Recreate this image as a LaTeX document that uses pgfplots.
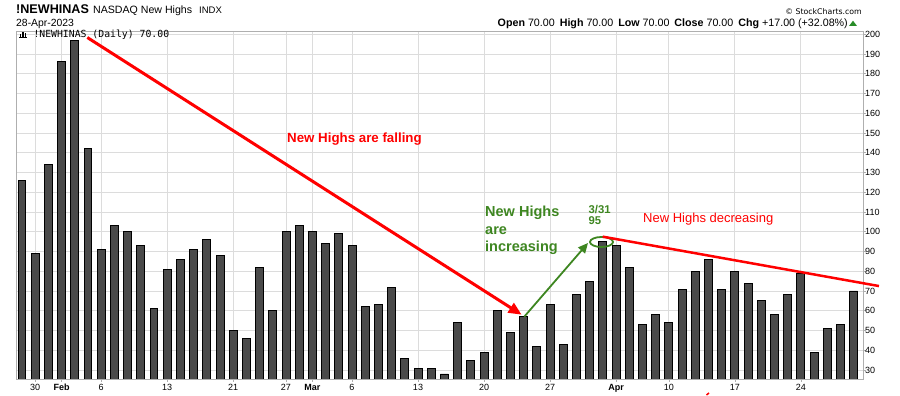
\documentclass[border=0pt]{standalone}
\usepackage{fontspec}
\setmainfont{Liberation Sans}
\newfontfamily\dejavu{DejaVu Sans}
\newfontfamily\dejavumono{DejaVu Sans Mono}
\usepackage{pgfplots}
\usepackage{pgfplotstable}
\pgfplotsset{compat=1.18}
\usetikzlibrary{arrows.meta}
\definecolor{barfill}{RGB}{74,74,74}
\definecolor{anngreen}{RGB}{62,134,33}
\definecolor{annred}{RGB}{255,0,0}
\definecolor{gridc}{RGB}{220,220,220}
\definecolor{framec}{RGB}{175,175,175}
\definecolor{upgreen}{RGB}{40,140,40}

\pgfplotstableread{
x y
0 126
1 89
2 134
3 186
4 197
5 142
6 91
7 103
8 100
9 93
10 61
11 81
12 86
13 91
14 96
15 88
16 50
17 46
18 82
19 60
20 100
21 103
22 100
23 94
24 99
25 93
26 62
27 63
28 72
29 36
30 31
31 31
32 28
33 54
34 35
35 39
36 60
37 49
38 57
39 42
40 63
41 43
42 68
43 75
44 95
45 93
46 82
47 53
48 58
49 54
50 71
51 80
52 86
53 71
54 80
55 74
56 65
57 58
58 68
59 79
60 39
61 51
62 53
63 70
}\newhighs

\begin{document}
\begin{tikzpicture}
\path[use as bounding box] (0pt,0pt) rectangle (900pt,396pt);
\begin{axis}[
  at={(16.7pt,17pt)}, anchor=south west,
  scale only axis, width=846.3pt, height=348pt,
  xmin=-0.4, xmax=63.71, ymin=25.45, ymax=201.6,
  ybar, bar width=0.6,
  xtick={1,3,6,11,16,20,22,25,30,35,40,45,49,54,59},
  xticklabels={30,\textbf{Feb},6,13,21,27,\textbf{Mar},6,13,20,27,\textbf{Apr},10,17,24},
  ytick={30,40,...,200},
  yticklabel pos=right,
  ytick pos=right, xtick pos=bottom,
  tick align=outside, major tick length=3pt,
  tick style={framec, line width=0.6pt},
  grid=major, major grid style={gridc, line width=0.7pt},
  axis line style={framec, line width=0.8pt},
  ticklabel style={font=\fontsize{9}{10}\selectfont, inner sep=0pt},
  yticklabel style={anchor=west, xshift=-1pt},
  xticklabel style={anchor=north, yshift=-2pt},
  /pgf/number format/assume math mode=true,
  clip mode=individual,
]
\addplot[fill=barfill, draw=black, line width=0.9pt] table[x=x,y=y] {\newhighs};
\draw[annred, line width=3pt, -{Triangle[length=13pt,width=11pt]}] (axis cs:4.95,198.3) -- (axis cs:37.85,58);
\draw[anngreen, line width=1.8pt, -{Triangle[length=10pt,width=9pt]}] (axis cs:38.05,57) -- (axis cs:42.88,94.3);
\draw[anngreen, line width=1.8pt] (axis cs:43.9,94.8) ellipse [x radius=11.5pt, y radius=5pt];
\draw[annred, line width=2.5pt] (axis cs:43.99,97.5) -- (axis cs:64.92,72.5);
\end{axis}
% header
\node[anchor=base west, inner sep=0pt, font=\fontsize{12.6}{14}\selectfont\bfseries] at (16pt,382.5pt) {!NEWHINAS};
\node[anchor=base west, inner sep=0pt, font=\fontsize{10.6}{12}\selectfont] at (93pt,382.5pt) {NASDAQ New Highs};
\node[anchor=base west, inner sep=0pt, font=\fontsize{9.5}{11}\selectfont] at (199pt,382.5pt) {INDX};
\node[anchor=base west, inner sep=0pt, font=\fontsize{10.4}{12}\selectfont] at (16pt,369.5pt) {28-Apr-2023};
\node[anchor=base east, inner sep=0pt, font=\fontsize{7.8}{9}\selectfont\dejavu] at (862pt,381.5pt) {© StockCharts.com};
\node[anchor=base east, inner sep=0pt, font=\fontsize{10.7}{12}\selectfont] at (848pt,369.3pt)
  {\textbf{Open} 70.00\hspace{5pt}\textbf{High} 70.00\hspace{5pt}\textbf{Low} 70.00\hspace{5pt}\textbf{Close} 70.00\hspace{5pt}\textbf{Chg} +17.00 (+32.08\%)};
\fill[upgreen] (849pt,370pt) -- (857pt,370pt) -- (853pt,375.3pt) -- cycle;
% in-plot label
\fill[black] (19.5pt,358.5pt) rectangle (21pt,362pt);
\fill[black] (22pt,358.5pt) rectangle (23.5pt,364.3pt);
\fill[black] (24.5pt,358.5pt) rectangle (26pt,363pt);
\fill[black] (19.3pt,358pt) rectangle (27.3pt,358.6pt);
\node[anchor=base west, inner sep=0pt, font=\fontsize{9.8}{11}\selectfont\dejavumono] at (33.3pt,358.3pt) {!NEWHINAS (Daily) 70.00};
% annotations
\node[anchor=base west, inner sep=0pt, text=annred, font=\fontsize{13.3}{15}\selectfont\bfseries] at (287pt,253pt) {New Highs are falling};
\node[anchor=base west, inner sep=0pt, text=anngreen, font=\fontsize{14.5}{16}\selectfont\bfseries] at (485pt,179.3pt) {New Highs};
\node[anchor=base west, inner sep=0pt, text=anngreen, font=\fontsize{14.5}{16}\selectfont\bfseries] at (485pt,161.5pt) {are};
\node[anchor=base west, inner sep=0pt, text=anngreen, font=\fontsize{14.5}{16}\selectfont\bfseries] at (485pt,144.5pt) {increasing};
\node[anchor=base west, inner sep=0pt, text=anngreen, font=\fontsize{11.3}{12}\selectfont\bfseries] at (588.5pt,182.5pt) {3/31};
\node[anchor=base west, inner sep=0pt, text=anngreen, font=\fontsize{11.3}{12}\selectfont\bfseries] at (588.5pt,171.5pt) {95};
\node[anchor=base west, inner sep=0pt, text=annred, font=\fontsize{13}{15}\selectfont] at (643pt,173pt) {New Highs decreasing};
\draw[annred, line width=1.5pt] (706.5pt,1pt) -- (709pt,3pt);
\end{tikzpicture}
\end{document}
